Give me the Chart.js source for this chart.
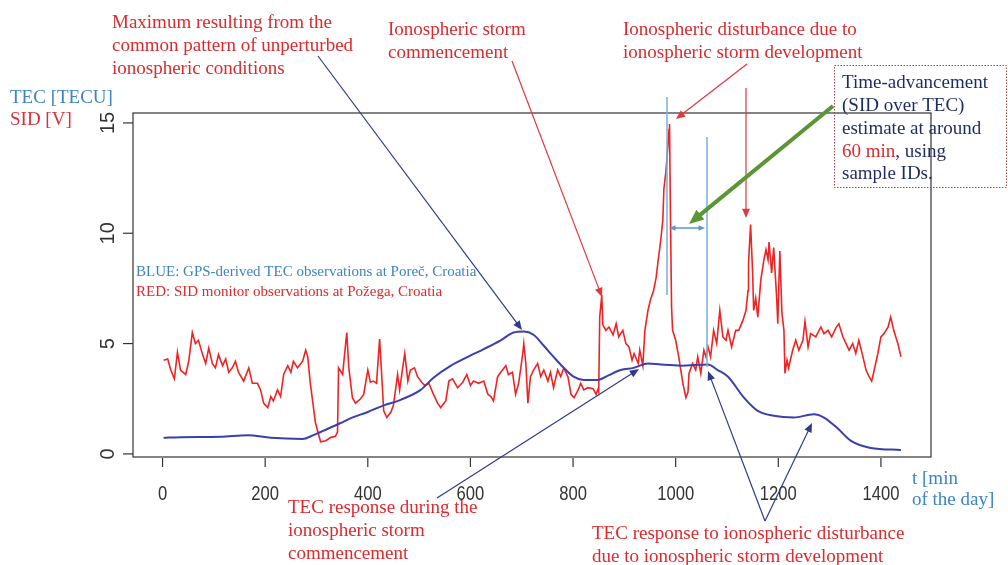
<!DOCTYPE html>
<html>
<head>
<meta charset="utf-8">
<script src="https://cdn.jsdelivr.net/npm/chart.js@4"></script>
<style>
  html, body { margin: 0; padding: 0; background: #fff; }
  canvas { display: block; }
</style>
</head>
<body>
<canvas id="chartTec" width="1008" height="565"></canvas>
<script>
// --- data ---
const xTicks = [0, 200, 400, 600, 800, 1000, 1200, 1400];
const yTicks = [0, 5, 10, 15];

// SID monitor (Pozega), minutes of day / volts
const sidMinutes = [2,10,16,23,29,35,45,51,58,64,70,78,84,90,97,103,109,117,123,129,136,142,148,158,168,175,185,191,197,205,211,216,224,230,236,244,250,255,263,273,279,283,288,298,308,318,328,337,341,343,351,353,359,363,370,376,386,392,400,405,411,417,423,427,431,437,445,450,458,462,468,472,478,483,491,497,505,511,519,528,536,542,552,558,565,575,585,593,600,606,616,626,634,640,645,653,659,669,674,682,688,694,702,704,708,712,717,723,731,737,743,751,756,762,770,776,782,790,796,802,810,815,821,829,839,845,848,850,852,856,858,864,870,878,884,889,897,903,909,915,919,927,930,936,940,946,951,957,962,966,971,975,977,981,985,987,988,990,992,994,1000,1006,1010,1014,1020,1024,1026,1033,1039,1043,1049,1055,1059,1063,1068,1074,1080,1086,1092,1098,1102,1109,1117,1123,1131,1137,1141,1142,1146,1150,1152,1156,1160,1166,1172,1176,1180,1182,1187,1191,1197,1199,1203,1207,1211,1213,1217,1220,1228,1234,1240,1248,1252,1258,1263,1273,1283,1289,1297,1304,1312,1318,1326,1332,1338,1345,1351,1357,1365,1371,1376,1382,1386,1394,1400,1406,1414,1419,1425,1429,1433,1439];
const sidVolts = [4.24,4.3,3.8,3.4,4.6,3.8,3.6,4.2,5.5,5.0,5.15,4.5,4.1,4.8,4.1,3.9,4.5,4.0,4.3,3.7,3.9,4.2,3.7,3.3,3.9,3.2,3.2,2.9,2.3,2.1,2.6,2.4,2.9,2.6,3.6,4.0,3.7,4.2,3.9,4.2,4.7,4.4,3.2,1.4,0.55,0.6,0.75,0.8,1.0,3.9,3.6,4.1,5.5,3.9,2.55,2.3,2.5,2.7,3.8,3.25,3.3,3.2,5.2,3.6,1.95,1.65,1.9,2.2,3.6,2.9,3.9,4.55,3.3,3.8,3.9,3.5,3.25,3.1,3.2,2.7,2.3,2.1,2.4,3.3,3.4,3.0,3.25,3.6,3.1,3.3,3.2,3.3,2.7,2.6,2.4,3.5,3.7,4.0,3.6,3.7,2.7,3.2,4.55,5.0,4.1,2.3,3.5,3.8,4.1,3.5,3.8,3.3,3.7,3.0,3.8,3.5,3.9,3.5,2.7,2.55,2.9,3.2,2.9,3.0,2.95,2.7,2.9,2.8,6.2,7.2,5.85,5.6,5.75,5.4,5.9,5.3,5.6,5.0,4.85,4.25,4.55,4.1,4.7,4.0,5.6,6.5,7.0,7.4,8.0,8.8,9.7,10.6,12.0,12.8,14.0,14.7,14.95,10.5,6.65,5.6,5.15,4.4,3.8,3.2,2.55,2.8,3.65,4.1,3.8,4.4,3.65,4.7,4.4,4.85,4.4,5.6,5.0,6.5,5.3,5.15,5.6,4.85,5.6,5.6,6.05,6.5,7.4,8.65,10.4,8.2,6.5,7.05,6.2,7.9,8.8,9.25,8.8,9.6,8.2,9.35,7.0,5.9,9.2,6.4,5.6,3.65,4.25,3.9,4.7,5.15,4.7,5.15,6.0,4.85,5.45,5.3,5.75,5.45,5.6,5.3,5.7,5.9,5.3,5.0,4.7,5.0,4.55,5.15,4.4,3.8,3.55,3.3,3.7,4.55,5.3,5.45,5.75,6.2,5.6,5.3,5.0,4.4];

// GPS TEC (Porec), minutes of day / TECU
const tecMinutes = [2,35,113,166,211,273,294,322,347,367,400,431,464,503,528,562,595,626,659,684,704,723,743,762,782,801,821,848,868,893,918,946,971,1010,1063,1082,1102,1133,1160,1191,1230,1269,1289,1316,1341,1380,1439];
const tecUnits = [0.73,0.76,0.78,0.85,0.73,0.68,0.85,1.14,1.4,1.62,1.9,2.2,2.45,2.9,3.45,4.0,4.4,4.75,5.15,5.5,5.55,5.4,4.9,4.4,3.9,3.5,3.35,3.35,3.55,3.8,3.9,4.1,4.05,4.0,4.05,3.8,3.5,2.55,1.95,1.73,1.65,1.8,1.65,1.15,0.6,0.27,0.18];

const RED = '#ee2424';
const TXT_RED = '#dc2b2e';
const NAVY = '#2e3a8c';
const TEC_BLUE = '#3b3fae';
const LABEL_BLUE = '#3c84c4';

function arrow(ctx, x1, y1, x2, y2, color, width, head) {
    const a = Math.atan2(y2 - y1, x2 - x1);
    ctx.save();
    ctx.strokeStyle = color;
    ctx.fillStyle = color;
    ctx.lineWidth = width;
    ctx.beginPath();
    ctx.moveTo(x1, y1);
    ctx.lineTo(x2 - Math.cos(a) * head * 0.6, y2 - Math.sin(a) * head * 0.6);
    ctx.stroke();
    ctx.beginPath();
    ctx.moveTo(x2, y2);
    ctx.lineTo(x2 - head * Math.cos(a - 0.4), y2 - head * Math.sin(a - 0.4));
    ctx.lineTo(x2 - head * Math.cos(a + 0.4), y2 - head * Math.sin(a + 0.4));
    ctx.closePath();
    ctx.fill();
    ctx.restore();
}

function lines(ctx, arr, x, y0, step) {
    arr.forEach((t, i) => ctx.fillText(t, x, y0 + i * step));
}

const framePlugin = {
    id: 'frame',
    afterDraw(chart) {
        const ctx = chart.ctx;
        const a = chart.chartArea;
        const xs = chart.scales.x, ys = chart.scales.y;
        ctx.save();

        // box
        ctx.strokeStyle = '#333';
        ctx.lineWidth = 1.2;
        ctx.strokeRect(a.left, a.top, a.right - a.left, a.bottom - a.top);

        // x ticks + labels (R style)
        ctx.fillStyle = '#333';
        ctx.textAlign = 'center';
        ctx.textBaseline = 'alphabetic';
        ctx.font = '20px "Liberation Sans", Arial, sans-serif';
        xTicks.forEach(v => {
            const px = xs.getPixelForValue(v);
            ctx.beginPath();
            ctx.moveTo(px, a.bottom + 1);
            ctx.lineTo(px, a.bottom + 10);
            ctx.stroke();
            ctx.save();
            ctx.translate(px, 500);
            ctx.scale(0.83, 1);
            ctx.fillText(String(v), 0, 0);
            ctx.restore();
        });

        // y ticks + rotated labels
        yTicks.forEach(v => {
            const py = ys.getPixelForValue(v);
            ctx.beginPath();
            ctx.moveTo(a.left, py);
            ctx.lineTo(a.left - 10, py);
            ctx.stroke();
            ctx.save();
            ctx.translate(114, py);
            ctx.rotate(-Math.PI / 2);
            ctx.textAlign = 'center';
            ctx.fillText(String(v), 0, 0);
            ctx.restore();
        });

        // axis titles
        ctx.textAlign = 'left';
        ctx.font = '19px "Liberation Serif", "DejaVu Serif", serif';
        ctx.fillStyle = LABEL_BLUE;
        ctx.fillText('TEC [TECU]', 10, 103);
        ctx.fillStyle = '#d8323a';
        ctx.fillText('SID [V]', 10, 125);
        ctx.fillStyle = LABEL_BLUE;
        lines(ctx, ['t [min', 'of the day]'], 912, 484, 21);

        // in-plot legend text
        ctx.font = '15px "Liberation Serif", serif';
        ctx.fillStyle = LABEL_BLUE;
        ctx.fillText('BLUE: GPS-derived TEC observations at Poreč, Croatia', 136, 276);
        ctx.fillStyle = TXT_RED;
        ctx.fillText('RED: SID monitor observations at Požega, Croatia', 136, 296);

        // annotation texts
        ctx.font = '19px "Liberation Serif", serif';
        ctx.fillStyle = TXT_RED;
        lines(ctx, ['Maximum resulting from the', 'common pattern of unperturbed', 'ionospheric conditions'], 112, 28, 23);
        lines(ctx, ['Ionospheric storm', 'commencement'], 388, 35, 23);
        lines(ctx, ['Ionospheric disturbance due to', 'ionospheric storm development'], 623, 35, 23);
        lines(ctx, ['TEC response during the', 'ionospheric storm', 'commencement'], 288, 513, 23);
        lines(ctx, ['TEC response to ionospheric disturbance', 'due to ionospheric storm development'], 592, 539, 23);

        // dotted note box
        ctx.save();
        ctx.strokeStyle = '#a34a4a';
        ctx.lineWidth = 1;
        ctx.setLineDash([1.5, 1.5]);
        ctx.strokeRect(834.5, 65.5, 172, 122);
        ctx.restore();
        ctx.font = '19px "Liberation Serif", serif';
        ctx.fillStyle = '#1f2b5e';
        lines(ctx, ['Time-advancement', '(SID over TEC)', 'estimate at around'], 842, 88, 23);
        ctx.fillStyle = TXT_RED;
        ctx.fillText('60 min', 842, 157);
        const w60 = ctx.measureText('60 min').width;
        ctx.fillStyle = '#1f2b5e';
        ctx.fillText(', using', 842 + w60, 157);
        ctx.fillText('sample IDs.', 842, 179);

        // light blue markers (time lag)
        ctx.strokeStyle = '#79aee0';
        ctx.lineWidth = 1.5;
        ctx.beginPath();
        ctx.moveTo(667, 97); ctx.lineTo(667, 295);
        ctx.moveTo(707, 137); ctx.lineTo(707, 367);
        ctx.stroke();
        arrow(ctx, 688, 228, 669, 228, '#5b96d2', 1.5, 7);
        arrow(ctx, 688, 228, 705, 228, '#5b96d2', 1.5, 7);

        // arrows
        arrow(ctx, 318, 56, 522, 330, NAVY, 1.2, 10);
        arrow(ctx, 512, 61, 602, 297, '#e0383c', 1.2, 10);
        arrow(ctx, 747, 64, 676, 119, '#e0383c', 1.2, 10);
        arrow(ctx, 746, 88, 746, 218, '#e0383c', 1.2, 10);
        arrow(ctx, 833, 106, 689, 224, '#5a9636', 4, 16);
        arrow(ctx, 437, 498, 639, 369, NAVY, 1.2, 10);
        arrow(ctx, 765, 521, 708, 371, NAVY, 1.2, 10);
        arrow(ctx, 765, 521, 812, 423, NAVY, 1.2, 10);

        ctx.restore();
    }
};

const toPts = (xs, ys) => xs.map((x, i) => ({ x: x, y: ys[i] }));

new Chart(document.getElementById('chartTec'), {
    type: 'line',
    data: {
        datasets: [{
            label: 'TEC',
            data: toPts(tecMinutes, tecUnits),
            borderColor: TEC_BLUE,
            borderWidth: 2,
            pointRadius: 0,
            cubicInterpolationMode: 'monotone',
            order: 0
        }, {
            label: 'SID',
            data: toPts(sidMinutes, sidVolts),
            borderColor: RED,
            borderWidth: 1.6,
            pointRadius: 0,
            tension: 0,
            order: 1
        }]
    },
    options: {
        responsive: false,
        animation: false,
        layout: { padding: { left: 133, right: 77, top: 113, bottom: 108 } },
        scales: {
            x: { type: 'linear', min: -57.6, max: 1497.6, display: false },
            y: { min: -0.14, max: 15.45, display: false }
        },
        plugins: { legend: { display: false }, tooltip: { enabled: false } }
    },
    plugins: [framePlugin]
});
</script>
</body>
</html>
